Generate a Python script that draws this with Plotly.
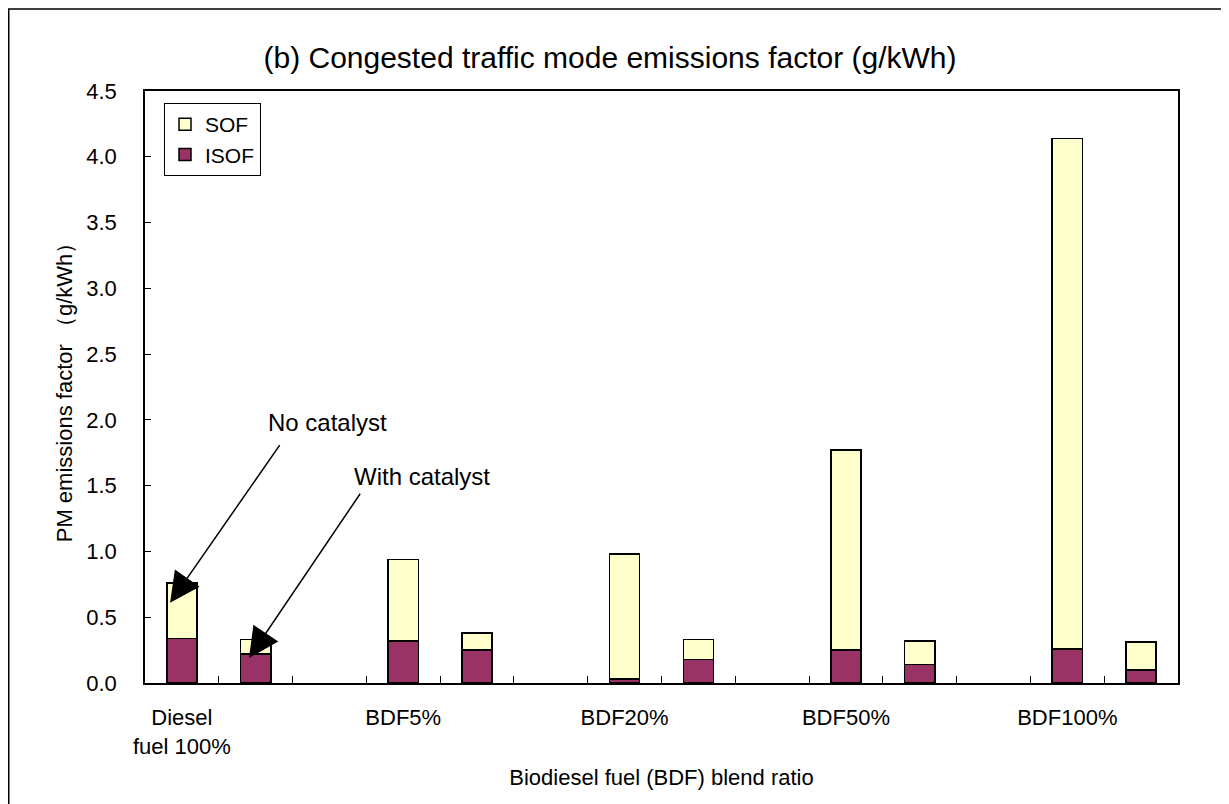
import plotly.graph_objects as go

# ---- data ----
categories = ["Diesel<br>fuel 100%", "BDF5%", "BDF20%", "BDF50%", "BDF100%"]
conditions = ["No catalyst", "With catalyst"]
# values in g/kWh, order: [Diesel no, Diesel with, BDF5 no, BDF5 with, ...]
isof = [0.34, 0.22, 0.32, 0.25, 0.03, 0.18, 0.25, 0.14, 0.26, 0.10]
sof = [0.42, 0.11, 0.62, 0.13, 0.95, 0.15, 1.52, 0.18, 3.88, 0.21]
y_ticks = [0.0, 0.5, 1.0, 1.5, 2.0, 2.5, 3.0, 3.5, 4.0, 4.5]

# x positions: two bars per blend, one empty slot between blends
xpos = []
for g in range(len(categories)):
    xpos += [3 * g, 3 * g + 1]
label_pos = [3 * g for g in range(len(categories))]
boundaries = [i + 0.5 for i in range(3 * len(categories) - 1)]

FONT = "Liberation Sans, Arial, sans-serif"
W, H = 1221, 796
L, R, T, B = 137, 51, 83, 121

fig = go.Figure()
fig.add_trace(go.Bar(
    x=xpos, y=isof, name="ISOF", width=0.41,
    marker=dict(color="#993366", line=dict(color="black", width=1.5)),
))
fig.add_trace(go.Bar(
    x=xpos, y=sof, name="SOF", width=0.41,
    marker=dict(color="#FFFFCC", line=dict(color="black", width=1.5)),
))

# arrows pointing to the Diesel bars
fig.add_annotation(x=-0.16, y=0.61, ax=1.34, ay=1.82, xref="x", yref="y",
                   axref="x", ayref="y", text="", showarrow=True,
                   arrowhead=2, arrowsize=4, arrowwidth=1.5, arrowcolor="black")
fig.add_annotation(x=0.91, y=0.19, ax=2.43, ay=1.45, xref="x", yref="y",
                   axref="x", ayref="y", text="", showarrow=True,
                   arrowhead=2, arrowsize=4, arrowwidth=1.5, arrowcolor="black")
fig.add_annotation(x=1.97, y=1.98, xref="x", yref="y", text=conditions[0],
                   showarrow=False, font=dict(family=FONT, size=24, color="black"))
fig.add_annotation(x=3.25, y=1.57, xref="x", yref="y", text=conditions[1],
                   showarrow=False, font=dict(family=FONT, size=24, color="black"))

# outer chart border
pw, ph = W - L - R, H - T - B
fig.add_shape(type="rect", xref="paper", yref="paper",
              x0=(0.75 - L) / pw, x1=(1220 - L) / pw,
              y0=(H - B - 805) / ph, y1=(H - B - 1) / ph,
              line=dict(color="black", width=1.5), fillcolor="rgba(0,0,0,0)", layer="below")

fig.update_layout(
    width=W, height=H,
    margin=dict(l=L, r=R, t=T, b=B, autoexpand=False),
    paper_bgcolor="white", plot_bgcolor="white",
    barmode="stack",
    font=dict(family=FONT, size=22, color="black"),
    title=dict(text="(b) Congested traffic mode emissions factor (g/kWh)",
               x=602 / W, xref="container", xanchor="center",
               y=1 - 49 / H, yref="container", yanchor="middle",
               font=dict(family=FONT, size=30, color="black")),
    legend=dict(x=(156 - L) / pw, y=(H - B - 95) / ph, xanchor="left", yanchor="top",
                traceorder="reversed", bordercolor="black", borderwidth=1,
                bgcolor="white", font=dict(family=FONT, size=21)),
    showlegend=True,
)
fig.update_xaxes(
    range=[-0.5, 3 * len(categories) - 1.5],
    tickmode="array", tickvals=label_pos, ticktext=categories,
    ticks="", ticklabelstandoff=14,
    minor=dict(tickmode="array", tickvals=boundaries, ticks="inside",
               ticklen=7, tickwidth=1, tickcolor="black", showgrid=False),
    showline=True, linecolor="black", linewidth=1.5, mirror=True,
    showgrid=False, zeroline=False,
    title=dict(text="Biodiesel fuel (BDF) blend ratio", standoff=12,
               font=dict(family=FONT, size=22)),
)
fig.update_yaxes(
    range=[0, 4.5], tickmode="array", tickvals=y_ticks, tickformat=".1f",
    ticks="inside", ticklen=6, tickcolor="black", ticklabelstandoff=22,
    showline=True, linecolor="black", linewidth=1.5, mirror=True,
    showgrid=False, zeroline=False,
    title=dict(text="PM emissions factor （g/kWh）", standoff=8,
               font=dict(family=FONT, size=22)),
)

fig.write_html("out.html")
